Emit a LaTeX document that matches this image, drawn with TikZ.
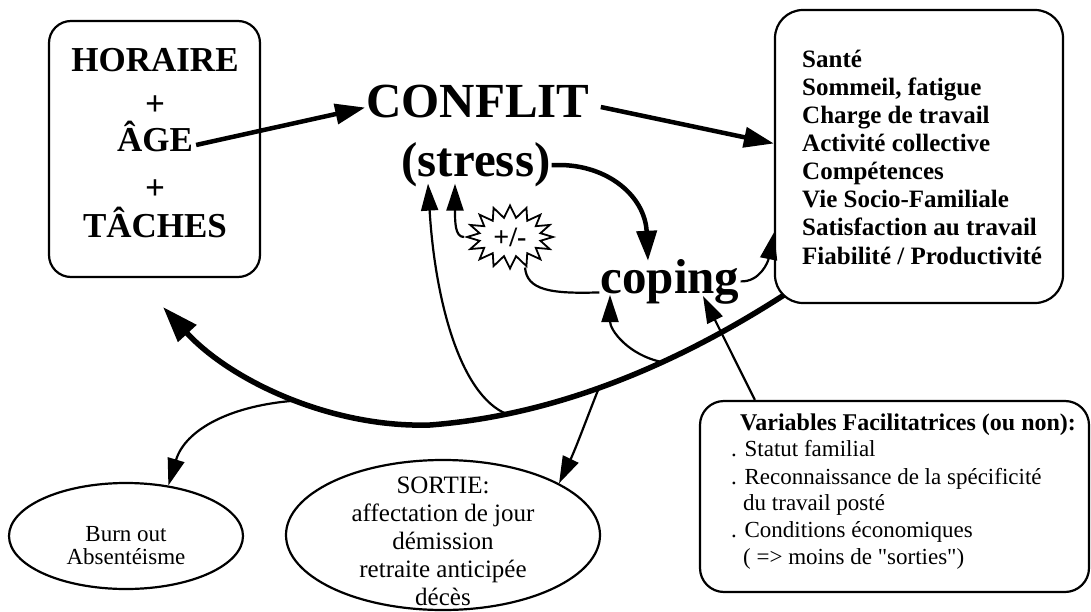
\documentclass[tikz,border=0pt]{standalone}
\usepackage{fontspec}
\setmainfont{Liberation Serif}
\newfontfamily\plainserif{Liberation Serif}[Ligatures=ResetAll]
\usetikzlibrary{arrows.meta,shapes.geometric,shapes.symbols}
\begin{document}
\begin{tikzpicture}[x=1pt,y=-1pt,
  box/.style={draw, line width=2.2pt, inner sep=0pt},
  bigtxt/.style={font=\fontsize{49}{55}\bfseries\selectfont, inner sep=1pt, anchor=base},
  intxt/.style={font=\fontsize{35}{40}\bfseries\selectfont, inner sep=0pt, anchor=base},
  rtxt/.style={font=\fontsize{25}{28}\bfseries\selectfont, inner sep=0pt, anchor=base west},
  vtxt/.style={font=\fontsize{23}{27}\selectfont, inner sep=0pt, anchor=base west},
  ell/.style={draw, ellipse, line width=2.2pt, inner sep=0pt},
  thickarr/.style={line width=4.5pt, -{Triangle[length=30pt,width=20pt]}},
  thinarr/.style={line width=2.2pt, -{Triangle[length=27pt,width=17pt]}},
  thinline/.style={line width=2.2pt},
]
\useasboundingbox (0,0) rectangle (1091,612);

% left box
\node[box, rounded corners=22pt, minimum width=211pt, minimum height=256pt] (inbox) at (154.5,149) {};
\node[intxt] (horaire) at (155,72) {HORAIRE};
\node[intxt] (plusa) at (155,116) {+};
\node[intxt] (age) at (155,152) {ÂGE};
\node[intxt] (plusb) at (155,200) {+};
\node[intxt] (taches) at (155,237) {TÂCHES};

% central words
\node[bigtxt] (conflit) at (478,118) {CONFLIT};
\node[bigtxt] (stress) at (476,177) {(stress)};
\node[bigtxt] (coping) at (670,293) {coping};

% right box
\node[box, rounded corners=28pt, minimum width=288pt, minimum height=293pt] (rbox) at (919,156.5) {};
\foreach \t [count=\i] in {Santé,{Sommeil, fatigue},Charge de travail,Activité collective,Compétences,Vie Socio-Familiale,Satisfaction au travail,Fiabilité / Productivité}
  \node[rtxt] (r\i) at (802,40+28*\i) {\t};

% starburst
\node[draw, starburst, starburst points=16, starburst point height=12pt, random starburst=0,
      line width=1.8pt, minimum width=86pt, minimum height=63pt, inner sep=0pt,
      font=\fontsize{28}{28}\bfseries\selectfont] (burst) at (510,237) {+/-};

% facilitating variables box
\node[box, rounded corners=24pt, minimum width=389pt, minimum height=191pt] (vbox) at (894.5,496.5) {};
\node[vtxt, font=\fontsize{24}{27}\bfseries\selectfont] (v0) at (740,430) {Variables Facilitatrices (ou non):};
\node[vtxt] (v1) at (731,456) {. Statut familial};
\node[vtxt] (v2) at (731,484) {. Reconnaissance de la spécificité};
\node[vtxt] (v3) at (743,510) {du travail posté};
\node[vtxt] (v4) at (731,537) {. Conditions économiques};
\node[vtxt, font=\plainserif\fontsize{23}{27}\selectfont] (v5) at (743,564) {( => moins de "sorties")};

% outcome ellipses
\node[ell, minimum width=234pt, minimum height=106pt] (burn) at (126,536) {};
\node[align=center, inner sep=0pt, font=\fontsize{23}{23}\selectfont] (burntxt) at (126,546) {Burn out\\Absentéisme};
\node[ell, minimum width=314pt, minimum height=150pt] (sortie) at (443,535) {};
\node[align=center, inner sep=0pt, font=\fontsize{25}{28}\selectfont] (sortietxt) at (443,541) {SORTIE:\\affectation de jour\\démission\\retraite anticipée\\décès};

% arrows
\draw[thickarr] ([xshift=3pt,yshift=-8pt]age.east) -- ([yshift=-5.5pt]conflit.west);
\draw[thickarr] ([xshift=10pt,yshift=-5pt]conflit.east) -- ([yshift=13pt]rbox.west);
\draw[thickarr] (stress.east) .. controls (605,162) and (645,195) .. ([xshift=-22pt,yshift=-3pt]coping.north);
\draw[thinline] ([yshift=-11pt]coping.west) .. controls (550,294) and (527,290) .. ([xshift=15pt,yshift=3pt]burst.south);
\draw[thinarr] (burst.west) .. controls (455,237) and (455,222) .. ([xshift=-21pt,yshift=5pt]stress.south);
\draw[thinarr] (coping.east) .. controls (760,282) and (768,262) .. ([yshift=-76pt]rbox.west);

% big feedback curve
\coordinate (rcorner) at (784,295);
\coordinate (bigend) at (163,307);
\draw[line width=5.5pt, -{Triangle[length=36pt,width=24pt]}]
  (rcorner) .. controls (680,362) and (560,415) .. (430,425)
  coordinate[pos=0.37] (jc) coordinate[pos=0.55] (js) coordinate[pos=0.8] (jst)
  .. controls (330,428) and (230,380) .. (bigend)
  coordinate[pos=0.45] (jb);

\draw[thinarr] (jc) .. controls (628,355) and (610,330) .. ([xshift=-60pt,yshift=10pt]coping.south);
\draw[thinarr] (jst) .. controls (460,395) and (435,300) .. ([xshift=-48pt,yshift=5pt]stress.south);
\draw[thinarr] (jb) .. controls (230,405) and (185,430) .. (burn.50);
\draw[thinarr] (js) .. controls (590,410) and (576,448) .. (sortie.24);
\draw[thinarr] ([xshift=56pt]vbox.north west) -- ([xshift=33pt,yshift=9pt]coping.south);
\end{tikzpicture}
\end{document}
